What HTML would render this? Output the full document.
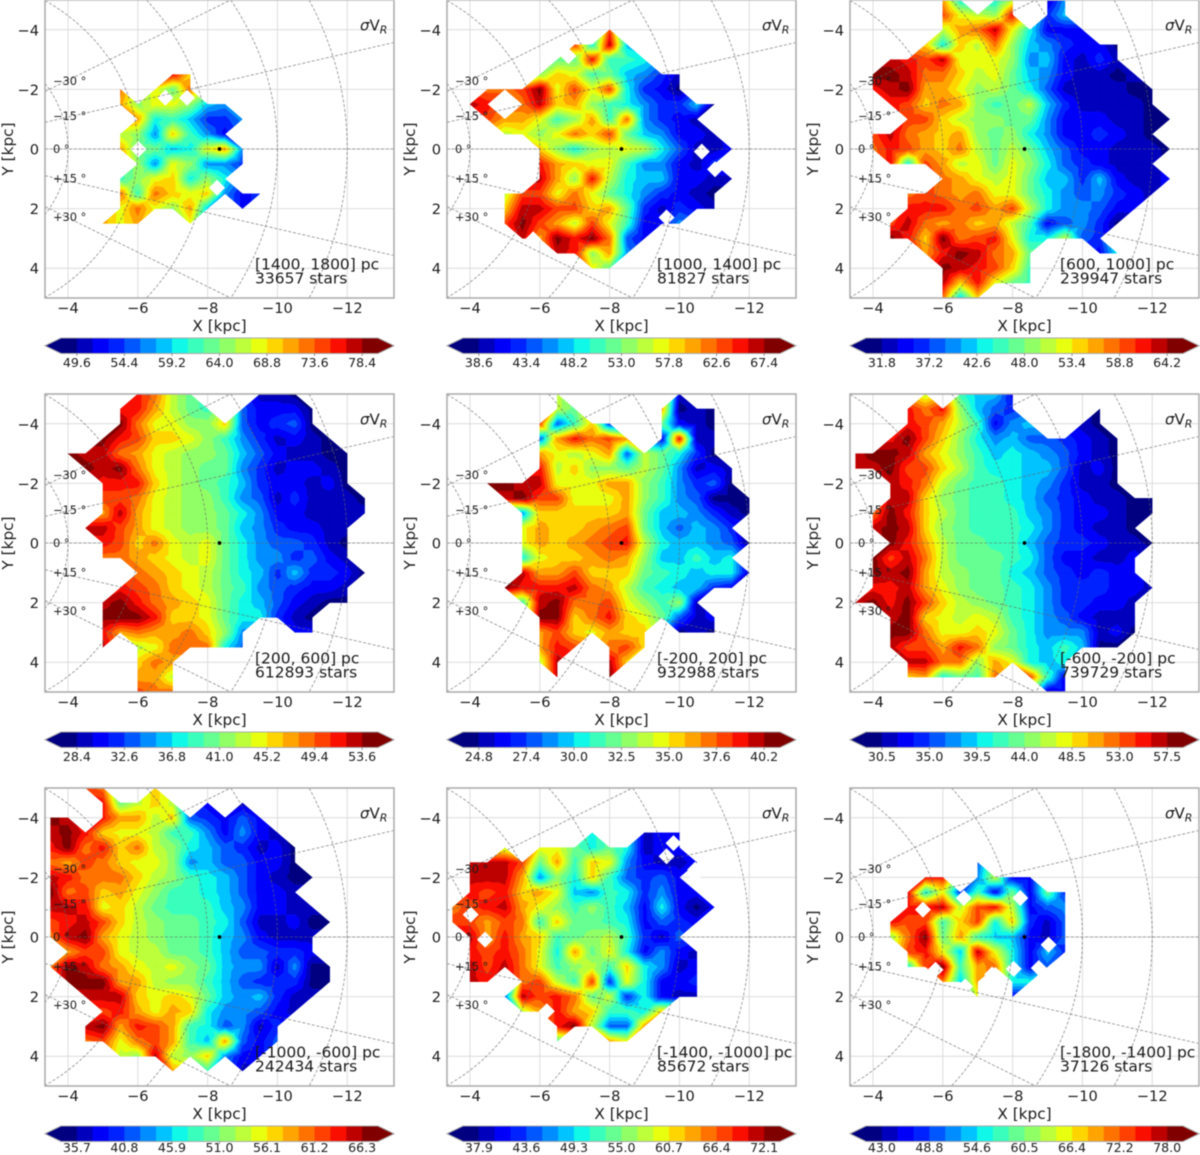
<!DOCTYPE html>
<html lang="en">
<head>
<meta charset="utf-8">
<title>Velocity dispersion maps by height slice</title>
<style>
html,body{margin:0;padding:0;background:#fff;width:1200px;height:1155px;overflow:hidden}
svg{display:block;font-family:"DejaVu Sans","Liberation Sans",sans-serif;fill:#1a1a1a;filter:blur(0.4px)}
.xl{font-size:15.3px;text-anchor:middle}
.tick{font-size:14.6px}
.cb{font-size:12.6px;text-anchor:middle}
.ann{font-size:15.5px}
.sv{font-size:15px}
.lon{font-size:11.4px}
</style>
</head>
<body>
<svg id="figure" width="1200" height="1155" viewBox="0 0 1200 1155" xmlns="http://www.w3.org/2000/svg">
<g class="panel" transform="translate(45,0)">
<g class="plot"></g>
<text class="ann" x="210" y="269.5">[1400, 1800] pc</text>
<text class="ann" x="210" y="283.5">33657 stars</text>
<text class="sv" x="315" y="30.5"><tspan font-style="italic">σ</tspan>V<tspan font-style="italic" font-size="11" dy="3">R</tspan></text>
<text class="xl" x="174.5" y="331">X [kpc]</text>
<text class="xl" transform="translate(-32,149) rotate(-90)">Y [kpc]</text>
</g>
<g class="panel" transform="translate(447,0)">
<g class="plot"></g>
<text class="ann" x="210" y="269.5">[1000, 1400] pc</text>
<text class="ann" x="210" y="283.5">81827 stars</text>
<text class="sv" x="315" y="30.5"><tspan font-style="italic">σ</tspan>V<tspan font-style="italic" font-size="11" dy="3">R</tspan></text>
<text class="xl" x="174.5" y="331">X [kpc]</text>
<text class="xl" transform="translate(-32,149) rotate(-90)">Y [kpc]</text>
</g>
<g class="panel" transform="translate(850,0)">
<g class="plot"></g>
<text class="ann" x="210" y="269.5">[600, 1000] pc</text>
<text class="ann" x="210" y="283.5">239947 stars</text>
<text class="sv" x="315" y="30.5"><tspan font-style="italic">σ</tspan>V<tspan font-style="italic" font-size="11" dy="3">R</tspan></text>
<text class="xl" x="174.5" y="331">X [kpc]</text>
<text class="xl" transform="translate(-32,149) rotate(-90)">Y [kpc]</text>
</g>
<g class="panel" transform="translate(45,394)">
<g class="plot"></g>
<text class="ann" x="210" y="269.5">[200, 600] pc</text>
<text class="ann" x="210" y="283.5">612893 stars</text>
<text class="sv" x="315" y="30.5"><tspan font-style="italic">σ</tspan>V<tspan font-style="italic" font-size="11" dy="3">R</tspan></text>
<text class="xl" x="174.5" y="331">X [kpc]</text>
<text class="xl" transform="translate(-32,149) rotate(-90)">Y [kpc]</text>
</g>
<g class="panel" transform="translate(447,394)">
<g class="plot"></g>
<text class="ann" x="210" y="269.5">[-200, 200] pc</text>
<text class="ann" x="210" y="283.5">932988 stars</text>
<text class="sv" x="315" y="30.5"><tspan font-style="italic">σ</tspan>V<tspan font-style="italic" font-size="11" dy="3">R</tspan></text>
<text class="xl" x="174.5" y="331">X [kpc]</text>
<text class="xl" transform="translate(-32,149) rotate(-90)">Y [kpc]</text>
</g>
<g class="panel" transform="translate(850,394)">
<g class="plot"></g>
<text class="ann" x="210" y="269.5">[-600, -200] pc</text>
<text class="ann" x="210" y="283.5">739729 stars</text>
<text class="sv" x="315" y="30.5"><tspan font-style="italic">σ</tspan>V<tspan font-style="italic" font-size="11" dy="3">R</tspan></text>
<text class="xl" x="174.5" y="331">X [kpc]</text>
<text class="xl" transform="translate(-32,149) rotate(-90)">Y [kpc]</text>
</g>
<g class="panel" transform="translate(45,788)">
<g class="plot"></g>
<text class="ann" x="210" y="269.5">[-1000, -600] pc</text>
<text class="ann" x="210" y="283.5">242434 stars</text>
<text class="sv" x="315" y="30.5"><tspan font-style="italic">σ</tspan>V<tspan font-style="italic" font-size="11" dy="3">R</tspan></text>
<text class="xl" x="174.5" y="331">X [kpc]</text>
<text class="xl" transform="translate(-32,149) rotate(-90)">Y [kpc]</text>
</g>
<g class="panel" transform="translate(447,788)">
<g class="plot"></g>
<text class="ann" x="210" y="269.5">[-1400, -1000] pc</text>
<text class="ann" x="210" y="283.5">85672 stars</text>
<text class="sv" x="315" y="30.5"><tspan font-style="italic">σ</tspan>V<tspan font-style="italic" font-size="11" dy="3">R</tspan></text>
<text class="xl" x="174.5" y="331">X [kpc]</text>
<text class="xl" transform="translate(-32,149) rotate(-90)">Y [kpc]</text>
</g>
<g class="panel" transform="translate(850,788)">
<g class="plot"></g>
<text class="ann" x="210" y="269.5">[-1800, -1400] pc</text>
<text class="ann" x="210" y="283.5">37126 stars</text>
<text class="sv" x="315" y="30.5"><tspan font-style="italic">σ</tspan>V<tspan font-style="italic" font-size="11" dy="3">R</tspan></text>
<text class="xl" x="174.5" y="331">X [kpc]</text>
<text class="xl" transform="translate(-32,149) rotate(-90)">Y [kpc]</text>
</g>
</svg>
<script>
// Axis tick values and overlay coordinates (kpc / degrees)
const xTicks = [-4, -6, -8, -10, -12];
const yTicks = [-4, -2, 0, 2, 4];
const arcRadii = [4, 6, 8, 10, 12];
const lonAngles = [-30, -15, 0, 15, 30];
const lonLabels = ["−30 °", "−15 °", "0 °", "+15 °", "+30 °"];
const lonLabelY = [-2.29, -1.1, 0.0, 0.99, 2.29];
const sunX = -8.34;

// Colour-bar tick labels per panel
const cbarTicksP1 = ["49.6","54.4","59.2","64.0","68.8","73.6","78.4"];
const cbarTicksP2 = ["38.6","43.4","48.2","53.0","57.8","62.6","67.4"];
const cbarTicksP3 = ["31.8","37.2","42.6","48.0","53.4","58.8","64.2"];
const cbarTicksP4 = ["28.4","32.6","36.8","41.0","45.2","49.4","53.6"];
const cbarTicksP5 = ["24.8","27.4","30.0","32.5","35.0","37.6","40.2"];
const cbarTicksP6 = ["30.5","35.0","39.5","44.0","48.5","53.0","57.5"];
const cbarTicksP7 = ["35.7","40.8","45.9","51.0","56.1","61.2","66.3"];
const cbarTicksP8 = ["37.9","43.6","49.3","55.0","60.7","66.4","72.1"];
const cbarTicksP9 = ["43.0","48.8","54.6","60.5","66.4","72.2","78.0"];

// Sigma V_R, expressed as colour-scale position (1 = lowest band, 20 = highest, 0 = no data).
// Rows: Y = -5 ... 5 kpc in 0.5 steps. Columns: X = -3.5, -4.0, ... in 0.5 steps.
const sigmaLevelsP1 = [[],[],[],[],[],
[0,0,0,0,0,0,0,18,14],
[0,0,0,0,16,0,13,10,16],
[0,0,0,0,15,11,13,13,11,7,6],
[0,0,0,0,0,15,8,9,7,4,4,6],
[0,0,0,0,12,11,6,14,9,6,3],
[0,0,0,0,15,10,10,7,8,13,15,6],
[0,0,0,0,0,11,6,13,11,6,6,4],
[0,0,0,0,9,11,13,14,8,11,8],
[0,0,0,0,16,9,16,14,13,14,6,3,4],
[0,0,0,0,13,16,13,11,15,7,0,3],
[0,0,0,15,13,15,0,0,13],
[],[],[],[],[]];
const sigmaLevelsP2 = [[],[],
[0,0,0,0,0,0,0,0,0,17],
[0,0,0,0,0,0,0,17,8,19,7],
[0,0,0,0,0,0,10,10,18,9,9,8],
[0,0,0,0,0,11,14,13,9,10,7,6,4,2],
[0,0,16,16,17,20,13,17,13,17,8,4,3,1],
[0,19,18,0,16,19,14,15,11,9,8,6,4,4,7,1],
[0,0,17,15,15,13,9,11,15,9,16,6,4,3,2],
[0,0,0,12,13,11,13,16,14,17,10,7,6,3,3,2],
[0,0,0,0,0,14,11,8,11,12,13,12,8,5,2,2,3],
[0,0,0,0,0,18,15,14,13,13,9,6,6,3,2,4],
[0,0,0,0,0,19,15,11,18,12,8,7,7,3,3,2,2],
[0,0,0,12,17,17,13,16,13,10,8,6,4,3,2,1],
[0,0,0,14,19,19,17,17,14,15,10,4,2,4,3,2],
[0,0,0,17,20,17,15,12,17,13,9,3,3,6],
[0,0,0,0,19,15,20,18,20,16,5,3],
[0,0,0,0,0,0,19,18,11,15,6],
[0,0,0,0,0,0,0,0,13,10],
[],[]];
const sigmaLevelsP3 = [
[0,0,0,0,0,15,8,0,8,12,0,2,6],
[0,0,0,0,0,17,13,12,11,18,0,4,7],
[0,0,0,0,0,12,15,16,19,13,8,3,3,3],
[0,0,0,0,14,8,14,12,16,11,7,6,4,3,3,1],
[0,0,19,18,17,19,13,13,13,11,6,7,3,2,4,2],
[0,20,20,19,16,16,14,12,13,10,7,6,3,2,2,1,2],
[0,18,19,20,15,15,13,11,12,10,8,5,2,2,2,2,1,1],
[0,0,18,17,14,16,15,11,9,10,12,7,4,2,2,2,2,1],
[0,0,0,17,17,14,12,11,11,10,10,6,3,3,3,2,2,1,1],
[0,17,19,16,15,14,15,11,10,11,8,6,3,3,4,3,2,1],
[0,16,18,17,15,14,16,12,10,12,10,7,5,3,3,2,2,2,1],
[0,0,18,8,17,15,12,13,10,13,11,8,5,4,3,2,2,2],
[0,0,0,0,0,16,15,13,12,13,10,7,7,4,7,3,2,2,3],
[0,0,0,16,17,16,15,16,13,13,10,8,6,5,6,4,3,2],
[0,0,0,18,18,18,16,17,15,17,12,8,6,6,5,3,3],
[0,0,17,19,16,15,16,14,15,12,9,3,5,6,4,1],
[0,0,20,18,14,20,16,17,18,13,8,8,12,5,4],
[0,0,0,0,15,18,20,19,16,15,10,0,0,0,3,8],
[0,0,0,0,0,20,19,18,17,14,9],
[0,0,0,0,0,19,14,18,13,10,9],
[0,0,0,0,0,16,7,14]];
const sigmaLevelsP4 = [
[0,0,0,0,0,18,16,12,10,0,0,0,2,2,1],
[0,0,0,0,18,18,15,12,10,9,0,5,3,3,3,1],
[0,0,0,0,20,16,13,13,11,11,14,5,3,4,5,1],
[0,0,0,20,18,17,14,14,13,11,9,6,4,2,3,2,1],
[0,20,19,19,16,15,13,12,11,11,10,7,5,3,2,2,1,1],
[0,0,20,19,20,16,13,12,11,10,10,6,4,2,3,3,2,1],
[0,0,0,18,18,18,14,12,11,10,9,7,4,3,3,2,3,1],
[0,0,0,17,17,16,13,12,11,11,9,6,5,2,4,2,2,2,1],
[0,0,0,15,19,15,13,12,11,11,10,8,6,3,3,2,2,2,2],
[0,17,19,19,17,15,13,12,11,11,10,7,6,4,3,3,2,2],
[0,0,0,18,17,14,16,13,12,13,10,8,6,5,5,4,2,1],
[0,0,0,16,16,15,14,13,12,13,10,8,6,6,4,5,3,2],
[0,0,0,0,0,16,15,14,13,12,10,8,7,4,7,4,4,3,1],
[0,0,0,0,18,17,16,14,13,12,10,9,6,5,4,3,3,2],
[0,0,0,19,20,18,16,15,14,13,10,8,7,5,3,2,1,1],
[0,0,0,20,20,20,18,14,14,13,10,8,8,4,2,1],
[0,0,0,18,15,16,15,15,16,14,11,6,0,0,3,3],
[0,0,0,19,0,12,13,16,16,16,8,5],
[0,0,0,0,0,14,16,15],
[0,0,0,0,0,15,15,12],
[0,0,0,0,0,17,16,16]];
const sigmaLevelsP5 = [
[0,0,0,0,0,0,12,0,0,0,0,0,0,2],
[0,0,0,0,0,0,12,10,0,0,0,0,15,1,2,1],
[0,0,0,0,0,17,5,9,14,4,0,0,10,3,2,1],
[0,0,0,0,0,5,15,18,16,17,15,0,3,18,2,2],
[0,0,0,0,0,15,13,12,13,15,5,12,10,8,4,1],
[0,0,0,0,0,18,12,14,11,11,10,12,10,6,2,3,2],
[0,0,20,20,19,19,13,13,13,15,15,11,9,6,4,5,1],
[0,0,0,19,20,17,17,13,13,13,15,11,9,6,5,1,1,1],
[0,0,0,0,6,14,14,14,14,14,15,10,7,7,6,4,2,1],
[0,0,0,0,13,15,14,14,15,16,17,10,7,5,7,6,4],
[0,0,0,0,13,15,14,15,16,17,18,12,8,7,7,6,5,1],
[0,0,0,0,8,13,14,14,15,16,15,11,7,7,9,7,8],
[0,0,0,0,19,15,15,17,14,14,14,10,9,8,7,8,8,2,2],
[0,0,0,20,18,18,18,19,16,15,12,9,8,7,7,4,3],
[0,0,0,0,9,19,20,16,16,17,13,11,9,11,2],
[0,0,0,0,0,20,20,14,16,18,14,13,10,5,2,3],
[0,0,0,0,0,15,17,14,13,15,14,14,0,1,2,1],
[0,0,0,0,0,15,18,17,0,16,17,14],
[0,0,0,0,0,12,19,0,0,19,14],
[0,0,0,0,0,0,19,0,0,20],
[]];
const sigmaLevelsP6 = [
[0,0,0,0,12,0,9,7,7,3],
[0,0,0,18,16,18,11,7,5,4,0,0,0,0,1],
[0,0,0,18,17,15,12,9,3,6,7,0,0,2,1],
[0,0,18,20,17,14,11,8,6,7,5,5,4,3,2,1],
[19,20,20,19,15,13,11,9,7,8,7,6,5,3,2,1],
[19,19,20,17,17,14,12,9,8,8,7,7,5,2,3,1],
[0,0,19,18,16,12,10,9,9,8,7,6,4,2,2,1],
[0,0,19,19,14,11,10,9,9,8,7,5,4,3,2,2,1,1],
[0,16,20,18,14,12,10,9,9,9,7,6,4,3,3,2,1,1],
[0,19,20,19,14,11,10,9,9,9,8,6,4,3,2,2,1],
[0,0,20,18,15,12,10,10,9,9,7,5,4,4,3,2,2,1],
[0,20,17,19,16,12,10,10,10,9,8,5,3,3,2,2,3],
[0,20,19,20,15,12,11,10,10,8,7,5,4,3,4,3,3],
[0,18,18,19,15,13,11,10,10,9,8,6,4,4,4,3,3,2],
[19,20,18,20,17,14,12,11,10,9,8,6,4,4,3,3,2],
[0,0,19,20,14,13,12,13,12,9,8,6,5,3,2,2,2],
[0,0,20,20,16,13,13,14,13,10,8,6,6,6,2,3,1],
[0,0,19,17,17,15,18,16,11,10,8,7,9,7,1,1],
[0,0,0,19,19,16,16,11,15,13,8,7,8],
[0,0,0,14,15,8,10,9,16,0,17,9,3],
[0,0,0,0,0,0,0,0,0,0,0,2,3]];
const sigmaLevelsP7 = [
[0,0,17,16,0,0,14],
[0,0,0,18,10,12,14,12,0,3,0,2],
[20,19,0,18,15,15,12,14,5,4,3,5,3],
[19,20,18,14,13,13,12,9,9,6,3,6,3,2],
[18,20,16,18,14,16,12,11,8,7,5,4,2,3,1],
[16,15,17,16,14,13,13,11,6,7,5,5,3,3,1],
[19,18,16,16,16,14,12,11,9,8,7,5,3,2,1,1],
[20,16,17,14,15,13,11,9,9,8,7,5,3,3,2],
[19,19,18,13,14,12,10,9,9,9,7,6,3,3,2,2],
[17,18,19,17,14,12,11,10,10,9,8,5,2,2,3,1,1],
[16,19,20,15,13,12,11,10,10,9,7,6,3,2,2,2],
[0,15,17,17,13,12,12,10,10,9,7,5,5,4,4,3],
[16,20,19,16,15,13,12,13,11,10,7,6,6,2,6,1,1],
[0,20,20,20,15,15,12,11,11,9,7,5,4,4,4,1,1],
[0,0,19,19,19,14,13,14,13,10,7,6,7,4,2,2],
[0,0,0,17,18,15,13,15,14,8,6,6,5,3,2],
[0,0,19,20,15,18,17,15,9,8,5,6,2,4],
[0,0,16,17,13,16,17,15,9,7,15,5,3,5],
[0,0,0,0,12,11,19,12,11,14,6,3,3],
[0,0,0,0,0,0,0,15,0,9,0,2],
[]];
const sigmaLevelsP8 = [[],[],[],
[0,0,0,0,0,0,0,0,8,0,0,2,3,3],
[0,0,0,12,0,13,13,10,8,10,8,2,3,3],
[0,19,19,19,17,10,15,9,14,13,6,3,2,2,3],
[0,19,19,19,15,6,11,8,14,9,5,4,5,3],
[0,18,17,18,14,15,13,7,6,9,8,4,6,3,3],
[16,17,18,19,15,13,11,9,11,9,7,3,8,3,1,3],
[17,17,15,17,16,9,14,10,10,9,8,3,5,4,3],
[0,19,15,18,15,14,9,10,11,12,9,4,2,5],
[0,18,17,18,16,13,8,15,10,13,8,3,6,3,2],
[0,19,17,19,16,13,9,11,12,9,14,8,6,2,3],
[0,19,18,0,16,17,12,9,17,4,13,8,3,3,4],
[0,0,0,5,19,17,18,16,10,12,4,8,3,2,2],
[0,0,0,0,12,15,18,15,14,9,9,8,14],
[0,0,0,0,0,0,18,20,12,5,5,15],
[0,0,0,0,0,0,9,0,0,15,13],
[],[],[]];
const sigmaLevelsP9 = [[],[],[],[],[],
[0,0,0,0,0,0,0,5],
[0,0,0,0,18,18,0,6,12,3,3],
[0,0,0,18,8,13,4,9,3,10,3,10,4],
[0,0,0,18,18,19,12,17,18,12,3,5,6],
[0,0,18,17,17,9,14,17,8,14,4,2,5],
[0,0,11,16,20,10,15,9,7,7,3,2,5],
[0,0,0,17,18,13,7,19,13,8,3,7,4],
[0,0,0,8,17,20,9,15,16,8,3,5],
[0,0,0,0,0,16,7,15,0,8,8],
[0,0,0,0,0,0,0,13,0,3],
[],[],[],[],[],[]];

// Small empty gaps in each map (X, Y in kpc)
const gapsP1 = [[-6.02,0.01],[-6.79,-1.72],[-7.41,-1.72],[-8.27,1.3]];
const gapsP2 = [[-10.64,0.09],[-11.02,0.68],[-9.63,2.3],[-6.82,-3.12],[-5.81,3.03]];
const gapsP3 = [];
const gapsP4 = [];
const gapsP5 = [];
const gapsP6 = [];
const gapsP7 = [];
const gapsP8 = [[-4.02,-0.75],[-4.43,0.09],[-9.63,-2.71],[-9.83,-3.15],[-10.45,-2.26],[-10.45,-1.92],[-6.2,2.49]];
const gapsP9 = [[-5.43,-0.92],[-6.6,-1.31],[-8.22,-1.31],[-5.79,1.1],[-7.41,1.26],[-8.03,1.07],[-8.75,1.04],[-9.03,0.26],[-6.64,1.66]];

const allLevels = [sigmaLevelsP1,sigmaLevelsP2,sigmaLevelsP3,sigmaLevelsP4,sigmaLevelsP5,sigmaLevelsP6,sigmaLevelsP7,sigmaLevelsP8,sigmaLevelsP9];
const allCbarTicks = [cbarTicksP1,cbarTicksP2,cbarTicksP3,cbarTicksP4,cbarTicksP5,cbarTicksP6,cbarTicksP7,cbarTicksP8,cbarTicksP9];
const allGaps = [gapsP1,gapsP2,gapsP3,gapsP4,gapsP5,gapsP6,gapsP7,gapsP8,gapsP9];

const SVGNS = "http://www.w3.org/2000/svg";
const W = 349, H = 298, NB = 20, GX0 = -3.5, GY0 = -5, GD = 0.5;
const XMIN = -3.34, XMAX = -13.34, YLIM = 5;
const CBT = 338, CBH = 15.5, CBI = 16;
function sx(x){ return (XMIN - x) * 34.9; }
function sy(y){ return (y + YLIM) * 29.8; }
function make(tag, attrs, parent){
  const el = document.createElementNS(SVGNS, tag);
  for (const k in attrs) el.setAttribute(k, attrs[k]);
  parent.appendChild(el);
  return el;
}
function seg(p, a){
  for (let i = 0; i < a.length - 1; i++) { if (a[i+1][0] > p) {
    return a[i][1] + (a[i+1][1]-a[i][1]) * (p-a[i][0]) / (a[i+1][0]-a[i][0]); } }
  return a[a.length-1][1];
}
function jet(i){
  const t = i / (NB - 1);
  const r = seg(t, [[0,0],[.35,0],[.66,1],[.89,1],[1,.5],[1.01,.5]]);
  const g = seg(t, [[0,0],[.125,0],[.375,1],[.64,1],[.91,0],[1.01,0]]);
  const b = seg(t, [[0,.5],[.11,1],[.34,1],[.65,0],[1.01,0]]);
  return "rgb(" + Math.round(r*255) + "," + Math.round(g*255) + "," + Math.round(b*255) + ")";
}
function clipAbove(poly, lim, sign){
  const out = [];
  for (let i = 0; i < poly.length; i++) {
    const a = poly[i], b = poly[(i+1) % poly.length];
    const ia = sign * (a[2] - lim) >= 0, ib = sign * (b[2] - lim) >= 0;
    if (ia) out.push(a);
    if (ia !== ib) {
      const t = (lim - a[2]) / (b[2] - a[2]);
      out.push([a[0]+t*(b[0]-a[0]), a[1]+t*(b[1]-a[1]), lim]);
    }
  }
  return out;
}
function addTriangle(tri, buckets){
  const vals = tri.map(p => p[2]);
  const minB = Math.max(0, Math.round(Math.min.apply(null, vals)) - 1);
  const maxB = Math.min(NB - 1, Math.round(Math.max.apply(null, vals)) - 1);
  for (let b = minB; b <= maxB; b++) {
    let poly = tri;
    if (b > 0) poly = clipAbove(poly, b + 0.5, 1);
    if (b < NB - 1 && poly.length) poly = clipAbove(poly, b + 1.5, -1);
    if (poly.length < 3) continue;
    buckets[b] += "M" + poly.map(p => p[0].toFixed(1) + " " + p[1].toFixed(1)).join("L") + "Z";
  }
}
function buildBands(levels){
  const buckets = new Array(NB).fill("");
  function node(r, c){
    const row = levels[r] || [];
    const v = row[c];
    if (!v) return null;
    return [sx(GX0 - GD * c), sy(GY0 + GD * r), v];
  }
  for (let r = 0; r < 20; r++) for (let c = 0; c < 19; c++) {
    const q = [node(r,c), node(r,c+1), node(r+1,c+1), node(r+1,c)];
    const ok = q.filter(Boolean);
    if (ok.length === 4) {
      const m = [0,1,2].map(i => (q[0][i]+q[1][i]+q[2][i]+q[3][i]) / 4);
      for (let i = 0; i < 4; i++) addTriangle([q[i], q[(i+1)%4], m], buckets);
    } else if (ok.length === 3) {
      addTriangle(ok, buckets);
    }
  }
  return buckets;
}
const panels = document.querySelectorAll("g.panel");
panels.forEach(function(panel, pi){
  const plot = panel.querySelector("g.plot");
  const clipId = "clip" + pi;
  const defs = make("defs", {}, plot);
  const cp = make("clipPath", {id: clipId}, defs);
  make("rect", {x:0, y:0, width:W, height:H}, cp);

  const bg = make("rect", {x:0, y:0, width:W, height:H, fill:"#fff"}, plot);
  
  

  const gridG = make("g", {stroke:"#dcdcdc", "stroke-width":1, fill:"none"}, plot);
  
  
  xTicks.forEach(function(t){ make("line", {x1:sx(t), x2:sx(t), y1:0, y2:H}, gridG); });
  yTicks.forEach(function(t){ make("line", {x1:0, x2:W, y1:sy(t), y2:sy(t)}, gridG); });

  const heat = make("g", {"clip-path":"url(#"+clipId+")"}, plot);
  
  
  const buckets = buildBands(allLevels[pi]);
  buckets.forEach(function(d, b){
    if (!d) return;
    const col = jet(b);
    const band = make("path", {d:d, fill:col, stroke:col, "stroke-width":0.35}, heat);
    
    
  });
  allGaps[pi].forEach(function(g){
    const gx = sx(g[0]), gy = sy(g[1]), hw = 8, hh = 8;
    const gap = make("path", {d:"M"+(gx-hw)+" "+gy+"L"+gx+" "+(gy-hh)+"L"+(gx+hw)+" "+gy+"L"+gx+" "+(gy+hh)+"Z", fill:"#fff"}, heat);
    
    
  });

  const over = make("g", {"clip-path":"url(#"+clipId+")", fill:"none", stroke:"#666", "stroke-opacity":0.72, "stroke-width":0.85, "stroke-dasharray":"3 1.8"}, plot);
  
  
  arcRadii.forEach(function(R){
    const limY = R > YLIM ? Math.asin(YLIM / R) : Math.PI / 2;
    const limX = Math.acos(Math.abs(XMIN) / R);
    const aMax = Math.min(limY, limX);
    let d = "";
    for (let i = 0; i <= 60; i++) {
      const rad = -aMax + 2 * aMax * i / 60;
      d += (d ? "L" : "M") + sx(-R * Math.cos(rad)).toFixed(1) + " " + sy(R * Math.sin(rad)).toFixed(1);
    }
    const arc = make("path", {d:d}, over);
    
    
  });
  lonAngles.forEach(function(a){
    const slope = Math.tan(a * Math.PI / 180);
    let endX = XMAX;
    if (Math.abs(slope * XMAX) > YLIM) endX = -YLIM / Math.abs(slope);
    const ray = make("line", {x1:sx(XMIN), y1:sy(-slope * XMIN), x2:sx(endX), y2:sy(-slope * endX)}, over);
    
    
  });

  const sun = make("circle", {cx:sx(sunX), cy:sy(0), r:1.9, fill:"#000"}, plot);
  
  

  lonLabels.forEach(function(txt, i){
    const t = make("text", {class:"lon", x:8, y:sy(lonLabelY[i]) + 4}, plot);
    
    
    t.textContent = txt;
  });

  const frame = make("rect", {x:0, y:0, width:W, height:H, fill:"none", stroke:"#a9a9a9", "stroke-width":1.5}, plot);
  
  

  xTicks.forEach(function(t){
    const el = make("text", {class:"tick", x:sx(t), y:313, "text-anchor":"middle"}, plot);
    
    
    el.textContent = String(t).replace("-", "−");
  });
  yTicks.forEach(function(t){
    const el = make("text", {class:"tick", x:-6, y:sy(t) + 5.5, "text-anchor":"end"}, plot);
    
    
    el.textContent = String(t).replace("-", "−");
  });

  const cbar = make("g", {}, plot);
  
  
  const bw = (W - 2 * CBI) / NB;
  const under = make("path", {d:"M0 "+(CBT+CBH/2)+"L"+CBI+" "+CBT+"V"+(CBT+CBH)+"Z", fill:jet(0)}, cbar);
  
  
  const overArrow = make("path", {d:"M"+W+" "+(CBT+CBH/2)+"L"+(W-CBI)+" "+CBT+"V"+(CBT+CBH)+"Z", fill:jet(NB-1)}, cbar);
  
  
  for (let b = 0; b < NB; b++) {
    const sw = make("rect", {x:CBI + b*bw, y:CBT, width:bw + 0.4, height:CBH, fill:jet(b)}, cbar);
    
    
  }
  const outline = make("path", {d:"M0 "+(CBT+CBH/2)+"L"+CBI+" "+CBT+"H"+(W-CBI)+"L"+W+" "+(CBT+CBH/2)+"L"+(W-CBI)+" "+(CBT+CBH)+"H"+CBI+"Z", fill:"none", stroke:"#a9a9a9", "stroke-width":1}, cbar);
  
  
  const labelY = pi >= 6 ? 363.8 : 367;
  allCbarTicks[pi].forEach(function(lbl, i){
    const tx = CBI + (1 + 3*i) * bw;
    const tm = make("line", {x1:tx, x2:tx, y1:CBT+CBH, y2:CBT+CBH+2.5, stroke:"#777", "stroke-width":0.8}, cbar);
    
    
    const el = make("text", {class:"cb", x:tx, y:labelY}, cbar);
    
    
    el.textContent = lbl;
  });
});
</script>
</body>
</html>
